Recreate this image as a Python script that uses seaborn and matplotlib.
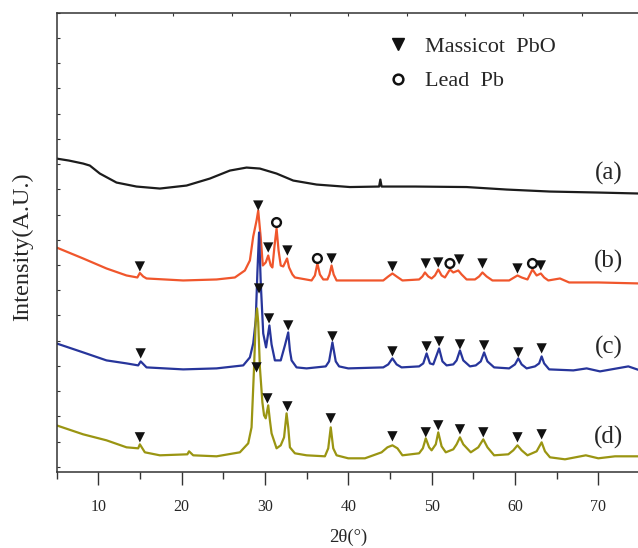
import numpy as np
import pandas as pd
import matplotlib
matplotlib.use('Agg')
import matplotlib.pyplot as plt
from matplotlib.lines import Line2D
import seaborn as sns

# ============================================================
# DATA (stacked XRD patterns, intensities already offset)
# ============================================================
two_theta_a = [5, 6.5, 8.2, 9.0, 10.2, 12.2, 14.6, 17.4, 20.6, 23.4, 25.8, 27.8, 29.4,
               31.4, 33.4, 36.2, 40.2, 43.7, 43.85, 44.0, 48, 54.2, 59, 64.2, 70, 75]
intensity_a = [314, 312, 309, 307, 299, 290, 286, 284, 287, 294, 302, 305, 304,
               299, 292, 288, 285.5, 286, 293, 286, 286, 285.5, 283, 281, 280, 279]

two_theta_b = [5, 8.2, 11.0, 13.4, 14.7, 15.0, 15.4, 15.8, 20.2, 24.2, 26.4, 27.6, 28.2,
               28.6, 29.0, 29.2, 29.5, 29.75, 30.1, 30.4, 30.7, 30.9, 31.16, 31.4, 31.64,
               31.9, 32.2, 32.66, 32.9, 33.3, 33.6, 35.6, 36.0, 36.3, 36.6, 37.0, 37.5,
               37.75, 38.0, 38.25, 38.6, 40, 44.2, 44.8, 45.3, 45.8, 46.5, 48.5, 48.9,
               49.2, 49.6, 50.0, 50.4, 50.8, 51.2, 51.6, 52.2, 52.6, 53.2, 53.6, 54.2,
               55.2, 55.7, 56.1, 56.6, 57.3, 59.3, 59.9, 60.3, 60.8, 61.5, 62.1, 62.6,
               63.1, 63.5, 64.0, 65.4, 66.5, 70, 75]
intensity_b = [225, 214, 204, 197, 195, 199.5, 196, 194, 192, 193, 195, 202, 212,
               236, 252, 262, 235, 207, 210, 217, 207, 205, 227, 244, 222,
               207, 206, 214, 205, 198, 195, 192, 197, 209, 198, 193, 193,
               198, 207, 198, 192, 192, 192, 196, 199, 196, 192, 193, 196,
               200, 196, 194, 197, 203, 197, 195, 203, 200, 202, 198, 193,
               193, 196, 200, 196, 192, 192, 195, 197, 195, 193, 203, 197,
               199, 195, 192, 194, 190, 190, 189]

two_theta_c = [5, 8.2, 11.0, 13.4, 14.8, 15.1, 15.8, 20.2, 24.2, 27.4, 28.2, 28.6, 28.9,
               29.1, 29.3, 29.5, 29.8, 30.14, 30.54, 30.8, 31.2, 31.9, 32.4, 32.8, 33.0,
               33.2, 33.8, 35, 37.3, 37.7, 38.1, 38.5, 38.9, 40, 44.2, 44.8, 45.3, 45.8,
               46.4, 48.5, 49.0, 49.4, 49.8, 50.2, 50.9, 51.3, 51.8, 52.6, 53.0, 53.4,
               53.8, 54.6, 55.3, 55.9, 56.3, 56.7, 57.5, 59.3, 60.0, 60.4, 60.8, 61.4,
               62.4, 62.9, 63.2, 63.5, 64.1, 67, 68.6, 70.2, 73.6, 75]
intensity_c = [129, 120, 112, 109, 107, 111, 105, 103, 104, 107, 115, 129, 152,
               200, 240, 190, 139, 125, 147, 128, 112, 112, 127, 140, 122,
               112, 105, 104, 106, 111, 130, 111, 106, 104, 105, 108, 114, 108,
               105, 106, 109, 119, 109, 108, 124, 111, 107, 108, 112, 122,
               112, 106, 107, 111, 120, 111, 105, 104, 108, 114, 108, 104,
               106, 109, 116, 109, 103, 102, 104, 101, 106, 102]

two_theta_d = [5, 8.2, 11.0, 13.4, 14.8, 15.0, 15.6, 17.4, 20.7, 20.9, 21.4, 24.2, 27.0,
               28.0, 28.4, 28.7, 28.9, 29.06, 29.2, 29.4, 29.7, 29.9, 30.1, 30.4, 30.6,
               30.8, 31.4, 31.9, 32.3, 32.6, 32.8, 33.0, 33.6, 35, 37.2, 37.6, 37.9, 38.2,
               38.6, 40, 42, 44, 44.7, 45.3, 45.9, 46.5, 48.5, 48.95, 49.3, 49.7, 50.0,
               50.5, 50.8, 51.2, 51.7, 52.6, 53.0, 53.4, 53.8, 54.7, 55.6, 56.2, 56.7,
               57.5, 59.2, 59.8, 60.3, 60.8, 61.5, 62.6, 63.2, 63.6, 64.2, 66, 68.5,
               70, 72, 75]
intensity_d = [47, 38, 32, 25, 24, 28, 20, 17, 18, 21, 17, 16, 20,
               29, 45, 105, 152, 164, 150, 105, 70, 57, 54, 67, 52,
               39, 24, 27, 35, 59, 45, 25, 19, 17, 16, 24, 45, 24,
               17, 14, 14, 20, 25, 27, 24, 17, 19, 24, 34, 25, 22,
               28, 40, 26, 20, 23, 28, 35, 28, 20, 25, 33, 25,
               17, 18, 22, 27, 22, 17, 21, 30, 21, 15, 13, 17,
               14, 16, 16]

# phase markers (massicot = triangles, lead = circles)
massicot_b_x = [15.0, 29.2, 30.4, 32.7, 38.0, 45.3, 49.3, 50.8, 53.3, 56.1, 60.3, 63.1]
massicot_b_y = [206, 267, 225, 222, 214, 206, 209, 210, 213, 209, 204, 207]
lead_b_x = [31.4, 36.3, 52.2, 62.1]
lead_b_y = [250, 214, 209, 209]
massicot_c_x = [15.1, 29.3, 30.5, 32.8, 38.1, 45.3, 49.4, 50.9, 53.4, 56.3, 60.4, 63.2]
massicot_c_y = [119, 184, 154, 147, 136, 121, 126, 131, 128, 127, 120, 124]
massicot_d_x = [15.0, 29.0, 30.3, 32.7, 37.9, 45.3, 49.3, 50.8, 53.4, 56.2, 60.3, 63.2]
massicot_d_y = [35, 105, 74, 66, 54, 36, 40, 47, 43, 40, 35, 38]

curve_labels = ['(a)', '(b)', '(c)', '(d)']
label_y = [299, 211, 125, 35]
colors = ['#1c1c1c', '#f0562c', '#27359b', '#9a9512']

# ============================================================
# PLOT
# ============================================================
sns.set_theme(style='ticks')
plt.rcParams['font.family'] = ['Liberation Serif', 'DejaVu Serif']

fig = plt.figure(figsize=(6.38, 5.48), dpi=100)
ax = fig.add_axes([56.5 / 638, 75.7 / 548, 583.5 / 638, 459.6 / 548])

series = [(two_theta_a, intensity_a), (two_theta_b, intensity_b),
          (two_theta_c, intensity_c), (two_theta_d, intensity_d)]
for (xs, ys), col in zip(series, colors):
    df = pd.DataFrame({'two_theta': xs, 'intensity': ys})
    sns.lineplot(data=df, x='two_theta', y='intensity', color=col, lw=1.6, ax=ax)

for mx, my in [(massicot_b_x, massicot_b_y), (massicot_c_x, massicot_c_y),
               (massicot_d_x, massicot_d_y)]:
    sns.scatterplot(x=mx, y=my, marker='v', s=55, color='#111111', edgecolor='none',
                    ax=ax, zorder=5)
sns.scatterplot(x=lead_b_x, y=lead_b_y, marker='o', s=40, color='none',
                edgecolor='#111111', linewidth=1.7, ax=ax, zorder=5)

for lab, yy in zip(curve_labels, label_y):
    ax.text(71.2, yy, lab, fontsize=18, ha='center', va='center')

ax.set_xlim(5, 75)
ax.set_ylim(0, 460)
ax.set_xticks(np.arange(10, 71, 10))
ax.set_xticks(np.arange(5, 76, 10), minor=True)
ax.set_yticks(np.arange(5.5, 461, 25.25))
ax.set_yticklabels([])
ax.tick_params(axis='x', which='major', direction='out', length=9, width=1,
               labelsize=11.5, pad=10, color='#333333')
ax.tick_params(axis='x', which='minor', direction='out', length=5, width=1, color='#333333')
ax.tick_params(axis='y', direction='in', length=2.5, width=0.8, color='#333333')

top = ax.secondary_xaxis('top')
top.set_xticks(np.arange(12, 75, 7))
top.set_xticklabels([])
top.tick_params(direction='in', length=2.5, width=0.8, color='#333333')
top.spines['top'].set_visible(False)

for side in ['left', 'bottom', 'top']:
    ax.spines[side].set_color('#333333')
    ax.spines[side].set_linewidth(1.1)
ax.spines['right'].set_visible(False)
ax.spines['top'].set_visible(True)

ax.set_xlabel('2θ(°)', fontsize=13.5, labelpad=10)
ax.set_ylabel('Intensity(A.U.)', fontsize=17.5)
ax.yaxis.set_label_coords(-0.040, 0.49)

handles = [Line2D([], [], ls='none', marker='v', ms=8, color='#111111'),
           Line2D([], [], ls='none', marker='o', ms=7, mfc='none', mec='#111111', mew=1.8)]
ax.legend(handles, ['Massicot  PbO', 'Lead  Pb'], loc='upper left',
          bbox_to_anchor=(0.532, 0.992), frameon=False, fontsize=16,
          handlelength=1.0, handletextpad=0.7, labelspacing=0.63, borderpad=0.4)

fig.savefig('out.png', dpi=100)
